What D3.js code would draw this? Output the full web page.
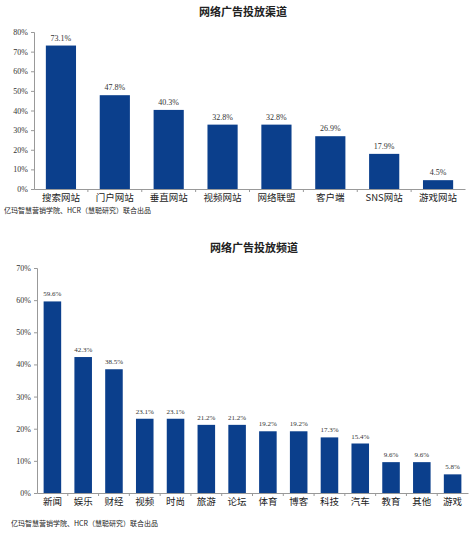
<!DOCTYPE html><html><head><meta charset="utf-8"><script src="https://cdn.jsdelivr.net/npm/d3@7"></script>
<style>body{margin:0;background:#fff}text{font-family:"Noto Sans CJK SC",sans-serif}</style></head><body>
<svg id="c" width="473" height="537"></svg>
<script>
const cats1=["搜索网站","门户网站","垂直网站","视频网站","网络联盟","客户端","SNS网站","游戏网站"];
const vals1=[73.1,47.8,40.3,32.8,32.8,26.9,17.9,4.5];
const ticks1=[0,10,20,30,40,50,60,70,80];
const cats2=["新闻","娱乐","财经","视频","时尚","旅游","论坛","体育","博客","科技","汽车","教育","其他","游戏"];
const vals2=[59.6,42.3,38.5,23.1,23.1,21.2,21.2,19.2,19.2,17.3,15.4,9.6,9.6,5.8];
const ticks2=[0,10,20,30,40,50,60,70];
const svg=d3.select("#c");
const col="#0b3f8c";
function draw(o){
 const g=svg.append("g");
 const x=d3.scaleBand().domain(o.cats).range([o.x0,o.x1]).paddingInner(o.pad).paddingOuter(o.pad/2);
 const y=d3.scaleLinear().domain([0,o.max]).range([o.yb,o.yt]);
 g.append("text").attr("x",o.tx).attr("y",o.ty).attr("text-anchor","middle").attr("font-size",11).attr("font-weight","bold").attr("fill","#222").text(o.title);
 const ya=g.append("g").attr("transform",`translate(${o.x0},0)`).call(d3.axisLeft(y).tickValues(o.ticks).tickSize(3).tickFormat(d=>d+"%"));
 ya.selectAll("text").attr("font-size",8).attr("fill","#333").style("font-family","Liberation Serif, serif");
 ya.selectAll("path,line").attr("stroke","#999");
 const xa=g.append("g").attr("transform",`translate(0,${o.yb})`).call(d3.axisBottom(x).tickSize(0).tickPadding(5));
 xa.selectAll("text").attr("font-size",o.fs).attr("fill","#222");
 xa.select("path").attr("stroke","#999");
 const step=x.step();
 g.selectAll(".t").data(o.cats.slice(1)).join("line").attr("x1",d=>x(d)-step*o.pad/2).attr("x2",d=>x(d)-step*o.pad/2).attr("y1",o.yb).attr("y2",o.yb+3).attr("stroke","#999");
 g.selectAll("rect").data(o.vals).join("rect").attr("x",(d,i)=>x(o.cats[i])).attr("width",x.bandwidth()).attr("y",d=>y(d)).attr("height",d=>o.yb-y(d)).attr("fill",col);
 g.selectAll(".l").data(o.vals).join("text").attr("x",(d,i)=>x(o.cats[i])+x.bandwidth()/2).attr("y",d=>y(d)-5).attr("text-anchor","middle").attr("font-size",o.lfs).attr("fill","#333").style("font-family","Liberation Serif, serif").text(d=>d+"%");
 g.append("text").attr("x",o.sx).attr("y",o.sy).attr("font-size",7).attr("fill","#222").text("亿玛智慧营销学院、HCR（慧聪研究）联合出品");
}
draw({cats:cats1,vals:vals1,ticks:ticks1,max:80,x0:34,x1:465,yt:32,yb:189,pad:0.44,title:"网络广告投放渠道",tx:243,ty:16,fs:9.5,lfs:8,sx:4,sy:213});
draw({cats:cats2,vals:vals2,ticks:ticks2,max:70,x0:37,x1:468,yt:268,yb:493,pad:0.43,title:"网络广告投放频道",tx:254,ty:252,fs:9.5,lfs:7,sx:11,sy:526});
</script></body></html>
